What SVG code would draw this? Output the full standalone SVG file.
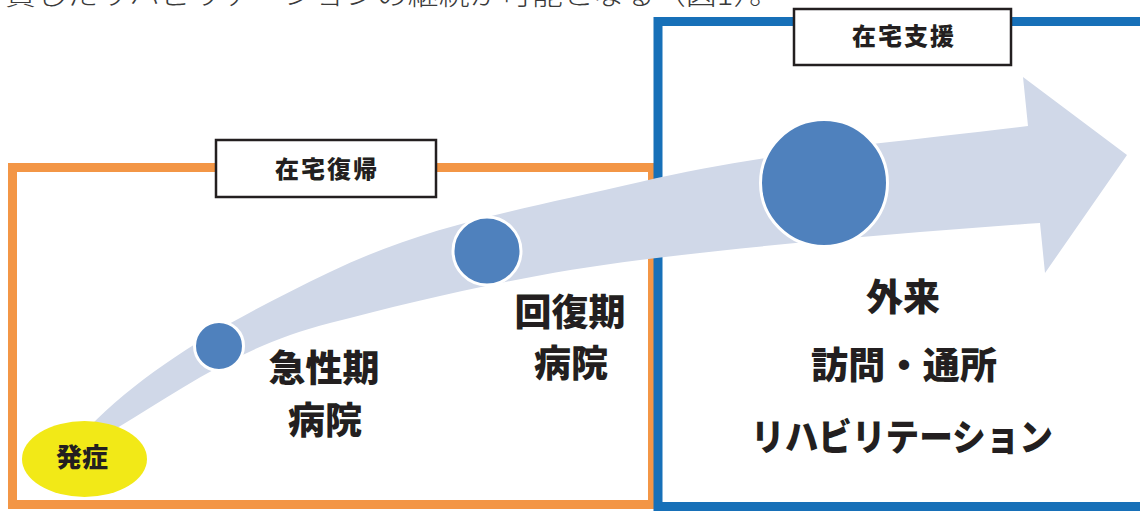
<svg xmlns="http://www.w3.org/2000/svg" width="1140" height="511" viewBox="0 0 1140 511">
<style>
.lbl{font-family:"Noto Sans CJK JP","Noto Sans",sans-serif;font-weight:900;fill:#231f20;text-anchor:middle;dominant-baseline:central}
.big{font-size:37px}
.tag{font-size:24px;letter-spacing:2px}
.box{fill:#ffffff;stroke:#231f20;stroke-width:2.5}
.dot{fill:#4f81bd;stroke:#ffffff;stroke-width:3}
.top{font-family:"Noto Sans CJK JP","Liberation Serif",serif;font-weight:300;font-size:28px;fill:#3a3a3a}
</style>
<rect width="1140" height="511" fill="#ffffff"/>
<text class="top" x="5" y="5" textLength="775" lengthAdjust="spacingAndGlyphs">貫したリハビリテーションの継続が可能となる（図1）。</text>

<g id="zone-home-return">
<rect x="12.5" y="167.5" width="640" height="337" fill="none" stroke="#f39646" stroke-width="9"/>
</g>
<g id="zone-home-support">
<rect x="658" y="21.5" width="520" height="485" fill="none" stroke="#1770b8" stroke-width="9"/>
</g>

<g id="connectors">
<path d="M 88,428 C 150,365 230,320 330,272 S 520,210 640,182 S 860,146 1028,126 L 1023,77 L 1127,155 L 1045,273 L 1040,223 C 900,233 760,245 640,260 S 420,300 330,323 S 180,390 117,428 Z" fill="#d0d8e8"/>
</g>

<g id="node-onset">
<ellipse cx="84.5" cy="459" rx="62.5" ry="38" fill="#f2e917"/>
<text class="lbl" x="82" y="455" font-size="26">発症</text>
</g>
<g id="node-acute">
<circle class="dot" cx="219" cy="346" r="24.5"/>
<text class="lbl big" x="324" y="366">急性期</text>
<text class="lbl big" x="325" y="418">病院</text>
</g>
<g id="node-recovery">
<circle class="dot" cx="487" cy="251" r="34"/>
<text class="lbl big" x="570" y="310">回復期</text>
<text class="lbl big" x="571" y="361">病院</text>
</g>
<g id="node-outpatient">
<circle class="dot" cx="824" cy="183" r="63.5"/>
<text class="lbl big" x="903" y="295">外来</text>
<text class="lbl big" x="904" y="363" textLength="186" lengthAdjust="spacing">訪問・通所</text>
<text class="lbl big" x="902" y="435" textLength="302" lengthAdjust="spacingAndGlyphs">リハビリテーション</text>
</g>

<g id="label-home-return">
<rect class="box" x="216" y="140" width="220" height="57"/>
<text class="lbl tag" x="327" y="167">在宅復帰</text>
</g>
<g id="label-home-support">
<rect class="box" x="794" y="9" width="217" height="56"/>
<text class="lbl tag" x="904" y="34">在宅支援</text>
</g>
</svg>
